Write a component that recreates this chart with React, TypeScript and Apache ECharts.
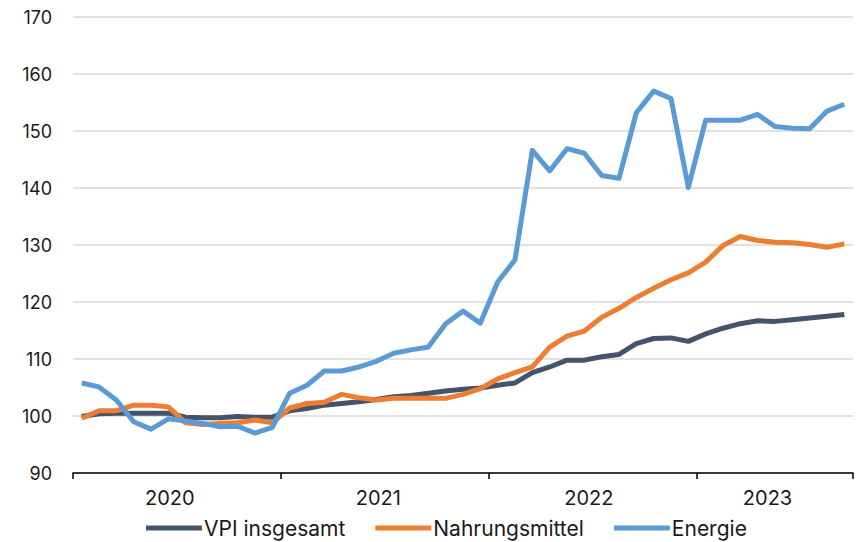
import React, { useEffect, useRef } from "react";
import * as echarts from "echarts";

const months: string[] = [
  "2020-01", "2020-02", "2020-03", "2020-04", "2020-05", "2020-06", "2020-07", "2020-08", "2020-09", "2020-10", "2020-11", "2020-12",
  "2021-01", "2021-02", "2021-03", "2021-04", "2021-05", "2021-06", "2021-07", "2021-08", "2021-09", "2021-10", "2021-11", "2021-12",
  "2022-01", "2022-02", "2022-03", "2022-04", "2022-05", "2022-06", "2022-07", "2022-08", "2022-09", "2022-10", "2022-11", "2022-12",
  "2023-01", "2023-02", "2023-03", "2023-04", "2023-05", "2023-06", "2023-07", "2023-08", "2023-09",
];

const vpi: number[] = [
  99.9, 100.4, 100.5, 100.5, 100.5, 100.5, 99.8, 99.7, 99.7, 99.9, 99.8, 99.8,
  100.9, 101.3, 101.9, 102.2, 102.5, 102.9, 103.4, 103.6, 104.0, 104.4, 104.7, 104.9,
  105.4, 105.8, 107.6, 108.6, 109.8, 109.8, 110.4, 110.8, 112.7, 113.6, 113.7, 113.1,
  114.4, 115.4, 116.2, 116.7, 116.6, 116.9, 117.2, 117.5, 117.8,
];

const nahrungsmittel: number[] = [
  99.6, 100.9, 100.9, 101.9, 101.9, 101.6, 98.8, 98.5, 98.7, 98.8, 99.3, 98.8,
  101.4, 102.2, 102.4, 103.8, 103.2, 102.8, 103.1, 103.1, 103.1, 103.1, 103.8, 104.8,
  106.5, 107.6, 108.6, 112.1, 114.0, 114.9, 117.3, 118.9, 120.8, 122.4, 123.9, 125.1,
  127.0, 129.9, 131.5, 130.8, 130.5, 130.4, 130.1, 129.6, 130.2,
];

const energie: number[] = [
  105.8, 105.1, 102.8, 99.0, 97.7, 99.5, 99.1, 98.7, 98.1, 98.2, 97.0, 98.0,
  104.0, 105.4, 107.9, 107.9, 108.6, 109.6, 111.0, 111.6, 112.1, 116.2, 118.4, 116.3,
  123.5, 127.4, 146.6, 143.0, 146.9, 146.1, 142.2, 141.7, 153.2, 157.0, 155.7, 140.1,
  151.9, 151.9, 151.9, 152.9, 150.8, 150.5, 150.4, 153.5, 154.7,
];

const seriesNames: string[] = ["VPI insgesamt", "Nahrungsmittel", "Energie"];
const seriesColors: string[] = ["#44546A", "#ED7D31", "#5B9BD5"];

// year labels: category index where each year's label sits
const yearLabelIndex: number[] = [5, 17, 29, 40];
const yearLabels: string[] = ["2020", "2021", "2022", "2023"];

const FONT = "Inter, 'Noto Sans', sans-serif";

export default function App() {
  const ref = useRef<HTMLDivElement>(null);

  useEffect(() => {
    document.body.style.margin = "0";
    if (!ref.current) return;
    const chart = echarts.init(ref.current, null, { renderer: "svg" });
    const data = [vpi, nahrungsmittel, energie];
    chart.setOption({
      animation: false,
      textStyle: { fontFamily: FONT },
      grid: { left: 73, right: 5, top: 17, bottom: 69, containLabel: false },
      legend: {
        data: seriesNames,
        left: 146,
        top: 517,
        padding: 0,
        icon: "rect",
        itemWidth: 56,
        itemHeight: 5,
        itemGap: 30,
        textStyle: {
          fontFamily: FONT,
          fontSize: 21,
          lineHeight: 22,
          color: "#1a1a1a",
          padding: [0, 0, 0, -3],
        },
      },
      xAxis: {
        type: "category",
        data: months,
        boundaryGap: true,
        axisLine: { lineStyle: { color: "#000", width: 1.5 } },
        axisTick: {
          show: true,
          length: 6,
          lineStyle: { color: "#000", width: 1.5 },
          interval: (index: number) => index % 12 === 0,
        },
        axisLabel: {
          interval: (index: number) => yearLabelIndex.indexOf(index) >= 0,
          formatter: (_v: string, index: number) => {
            const k = yearLabelIndex.indexOf(index);
            if (k < 0) return "";
            const styles = ["a", "b", "c", "d"];
            return "{" + styles[k] + "|" + yearLabels[k] + "}";
          },
          margin: 15,
          rich: {
            a: { fontFamily: FONT, fontSize: 20, color: "#1a1a1a", padding: [0, 0, 0, 3] },
            b: { fontFamily: FONT, fontSize: 20, color: "#1a1a1a", padding: [0, 0, 0, 4] },
            c: { fontFamily: FONT, fontSize: 20, color: "#1a1a1a", padding: [0, 0, 14, 9] },
            d: { fontFamily: FONT, fontSize: 20, color: "#1a1a1a", padding: [0, 15, 0, 0] },
          },
        },
        splitLine: { show: false },
      },
      yAxis: {
        type: "value",
        min: 90,
        max: 170,
        interval: 10,
        axisLine: { show: false },
        axisTick: { show: false },
        axisLabel: { fontFamily: FONT, fontSize: 18, color: "#1a1a1a", margin: 21 },
        splitLine: { lineStyle: { color: "#d9d9d9", width: 1.5 } },
      },
      series: seriesNames.map((name, i) => ({
        name,
        type: "line",
        data: data[i],
        symbol: "none",
        smooth: false,
        lineStyle: { color: seriesColors[i], width: 5, join: "round" },
        itemStyle: { color: seriesColors[i] },
        z: 2 + i,
      })),
    });
    return () => chart.dispose();
  }, []);

  return <div ref={ref} style={{ width: 858, height: 542 }} />;
}
